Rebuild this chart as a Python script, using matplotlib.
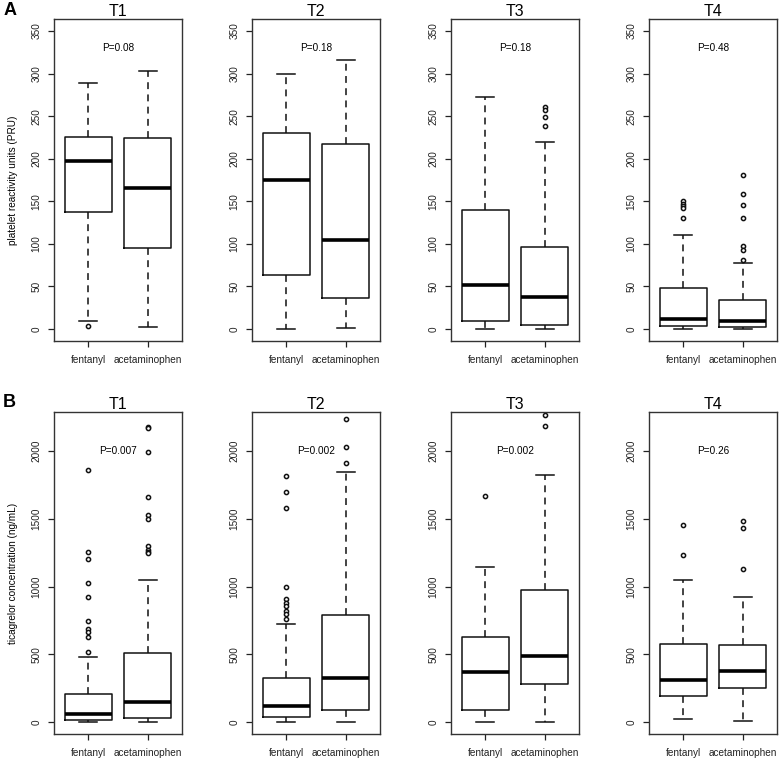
import matplotlib
matplotlib.use("Agg")
import matplotlib.pyplot as plt

plt.rcParams['font.family'] = ['Liberation Sans', 'DejaVu Sans']

timepoints = ["T1", "T2", "T3", "T4"]
groups = ["fentanyl", "acetaminophen"]

# box stats: (lower whisker, Q1, median, Q3, upper whisker)
pru_fentanyl = [(9, 138, 197, 225, 289), (0, 63, 175, 230, 300),
                (0, 9, 52, 140, 273), (0, 4, 12, 48, 111)]
pru_fentanyl_out = [[3.5], [], [], [150, 147, 144, 142, 130]]
pru_acet = [(2, 95, 166, 224, 303), (1, 36, 104, 217, 316),
            (0, 5, 38, 96, 220), (0, 3, 9, 34, 78)]
pru_acet_out = [[], [], [261, 257, 249, 238], [181, 158, 146, 130, 98, 93, 81]]
pru_p = ["P=0.08", "P=0.18", "P=0.18", "P=0.48"]

tica_fentanyl = [(0, 12, 61, 204, 479), (0, 37, 115, 324, 727),
                 (0, 91, 369, 631, 1142), (22, 194, 314, 577, 1047)]
tica_fentanyl_out = [[1857, 1258, 1206, 1027, 926, 749, 688, 663, 627, 516],
                     [1813, 1700, 1582, 995, 909, 882, 853, 823, 794, 764],
                     [1671], [1455, 1236]]
tica_acet = [(0, 30, 147, 511, 1052), (0, 91, 327, 789, 1848),
             (0, 278, 484, 975, 1823), (5, 248, 376, 568, 924)]
tica_acet_out = [[2180, 2170, 1995, 1663, 1530, 1500, 1300, 1270, 1255, 1245],
                 [2233, 2032, 1914], [2263, 2187], [1484, 1430, 1130]]
tica_p = ["P=0.007", "P=0.002", "P=0.002", "P=0.26"]

rows = [
    dict(fent=pru_fentanyl, fent_out=pru_fentanyl_out, acet=pru_acet, acet_out=pru_acet_out,
         p=pru_p, ylim=(0, 350), ticks=range(0, 351, 50), ptxt_y=330,
         ylabel="platelet reactivity units (PRU)"),
    dict(fent=tica_fentanyl, fent_out=tica_fentanyl_out, acet=tica_acet, acet_out=tica_acet_out,
         p=tica_p, ylim=(0, 2200), ticks=range(0, 2001, 500), ptxt_y=2000,
         ylabel="ticagrelor concentration (ng/mL)"),
]

W, H = 780, 761
fig = plt.figure(figsize=(W / 100, H / 100), dpi=100)

lefts = [54, 252, 451, 649]
tops = [19, 412]
aw, ah = 128, 322

def mkstats(s, out):
    return dict(whislo=s[0], q1=s[1], med=s[2], q3=s[3], whishi=s[4], fliers=out)

for r, row in enumerate(rows):
    for c in range(4):
        ax = fig.add_axes([lefts[c] / W, 1 - (tops[r] + ah) / H, aw / W, ah / H])
        stats = [mkstats(row['fent'][c], row['fent_out'][c]),
                 mkstats(row['acet'][c], row['acet_out'][c])]
        ax.bxp(stats, positions=[1, 2], widths=0.8, capwidths=0.3,
               boxprops=dict(color='#111111', lw=1.1),
               whiskerprops=dict(color='#111111', lw=1.1, linestyle=(0, (4.5, 3.5))),
               capprops=dict(color='#111111', lw=1.1),
               medianprops=dict(color='black', lw=2.6, solid_capstyle='butt'),
               flierprops=dict(marker='o', markersize=3.0, markerfacecolor='white',
                               markeredgecolor='#111111', markeredgewidth=1.1))
        lo, hi = row['ylim']
        pad = 0.04 * (hi - lo)
        ax.set_ylim(lo - pad, hi + pad)
        ax.set_xlim(0.42, 2.58)
        ax.set_yticks(list(row['ticks']))
        ax.set_xticks([1, 2])
        ax.set_xticklabels(groups)
        for lbl in ax.get_yticklabels():
            lbl.set_rotation(90)
            lbl.set_va('center')
        ax.tick_params(axis='y', labelsize=7.2, length=4, width=0.9, pad=5, colors='#222222')
        ax.tick_params(axis='x', labelsize=7.2, length=4, width=0.9, pad=6, colors='#222222')
        for sp in ax.spines.values():
            sp.set_linewidth(1.0)
            sp.set_color('#333333')
        ax.set_title(timepoints[c], fontsize=11.5, pad=1)
        ax.text(1.5, row['ptxt_y'], row['p'][c], ha='center', va='center', fontsize=7.2)
        if c == 0:
            ax.set_ylabel(row['ylabel'], fontsize=7.2)
            ax.yaxis.set_label_coords(-0.28, 0.5)

fig.text(0.004, 0.998, "A", fontsize=13, fontweight='bold', ha='left', va='top')
fig.text(0.004, 1 - 394 / H, "B", fontsize=13, fontweight='bold', ha='left', va='top')

fig.savefig("out.png", dpi=100)
